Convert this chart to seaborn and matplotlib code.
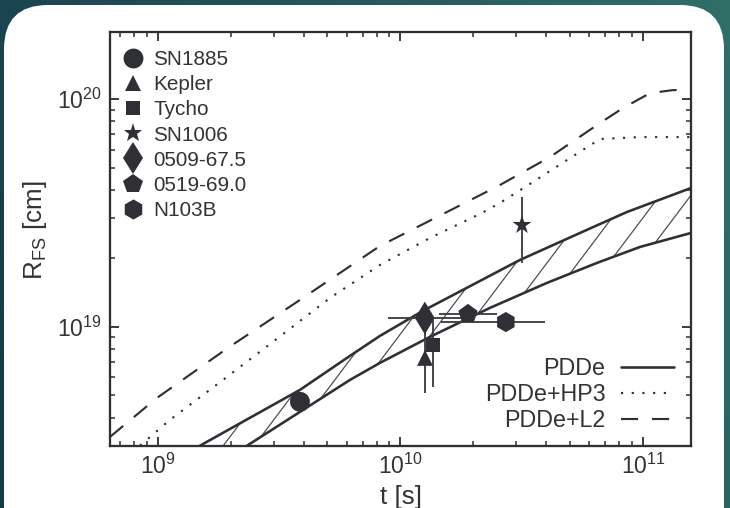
import numpy as np
import matplotlib
matplotlib.use("Agg")
import matplotlib.pyplot as plt
import seaborn as sns
from matplotlib.patches import FancyBboxPatch
from matplotlib.lines import Line2D
from matplotlib.collections import LineCollection
from matplotlib.colors import LinearSegmentedColormap

# ---------------- data ----------------
pdde_upper_t = [1.49e9, 3.85e9, 6.19e9, 8.23e9, 1.238e10, 3.11e10, 5.50e10, 8.59e10, 1.578e11]
pdde_upper_r = [3.01e18, 5.29e18, 7.46e18, 9.13e18, 1.176e19, 1.967e19, 2.584e19, 3.194e19, 4.07e19]
pdde_lower_t = [2.33e9, 6.19e9, 8.23e9, 1.323e10, 2.34e10, 4.02e10, 6.46e10, 9.72e10, 1.578e11]
pdde_lower_r = [3.01e18, 5.85e18, 6.95e18, 9.04e18, 1.212e19, 1.560e19, 1.909e19, 2.243e19, 2.584e19]
hp3_t = [8.43e8, 1.121e9, 1.854e9, 3.245e9, 5.12e9, 8.23e9, 1.323e10, 2.168e10, 2.572e10,
         3.519e10, 4.86e10, 6.65e10, 9.72e10, 1.578e11]
hp3_r = [3.01e18, 3.91e18, 5.85e18, 9.22e18, 1.340e19, 1.870e19, 2.457e19, 3.162e19, 3.499e19,
         4.325e19, 5.40e19, 6.68e19, 6.81e19, 6.81e19]
l2_t = [6.34e8, 9.91e8, 1.944e9, 3.85e9, 8.23e9, 1.555e10, 2.572e10, 4.135e10, 6.65e10,
        8.27e10, 1.069e11, 1.329e11, 1.578e11]
l2_r = [3.29e18, 4.88e18, 8.09e18, 1.313e19, 2.266e19, 3.194e19, 4.196e19, 5.568e19, 7.85e19,
        9.13e19, 1.062e20, 1.095e20, 1.095e20]

snr_names = ["SN1885", "Kepler", "Tycho", "SN1006", "0509-67.5", "0519-69.0", "N103B"]
snr_t = [3.85e9, 1.262e10, 1.362e10, 3.17e10, 1.26e10, 1.898e10, 2.72e10]
snr_r = [4.69e18, 7.31e18, 8.34e18, 2.80e19, 1.094e19, 1.14e19, 1.05e19]
snr_t_lo = [3.85e9, 1.262e10, 1.362e10, 3.17e10, 8.87e9, 1.442e10, 1.465e10]
snr_t_hi = [3.85e9, 1.262e10, 1.362e10, 3.17e10, 1.793e10, 2.50e10, 3.94e10]
snr_r_lo = [4.69e18, 5.14e18, 5.46e18, 1.91e19, 1.094e19, 1.14e19, 1.05e19]
snr_r_hi = [4.69e18, 1.07e19, 1.106e19, 3.72e19, 1.094e19, 1.14e19, 1.05e19]

model_labels = ["PDDe", "PDDe+HP3", "PDDe+L2"]

# ---------------- style ----------------
sns.set_theme(style="ticks")
plt.rcParams["font.family"] = ["Liberation Sans", "DejaVu Sans"]
plt.rcParams["mathtext.default"] = "regular"
INK = "#2e3035"
TXT = "#333333"
for k in ["text.color", "axes.labelcolor", "xtick.color", "ytick.color"]:
    plt.rcParams[k] = TXT

DPI = 220
W, H = 730, 508
fig = plt.figure(figsize=(W / DPI, H / DPI), dpi=DPI)
fig.patch.set_facecolor("#1d4a55")

# teal gradient frame
bg = fig.add_axes([0, 0, 1, 1], zorder=-10)
cmap = LinearSegmentedColormap.from_list("teal", ["#153a48", "#22545c", "#2f6f68"])
gx = np.linspace(0, 1, 256)
gy = np.linspace(0, 1, 64)
grad = 0.8 * gx[None, :] + 0.2 * gy[:, None]
bg.imshow(grad, cmap=cmap, aspect="auto", extent=[0, 1, 0, 1], origin="lower")
bg.set_axis_off()

panel = FancyBboxPatch((4 / DPI, -60 / DPI), (724 - 4) / DPI, (503 + 60) / DPI,
                       boxstyle=f"round,pad=0,rounding_size={44 / DPI}",
                       transform=fig.dpi_scale_trans, facecolor="white",
                       edgecolor="none", zorder=-5)
fig.add_artist(panel)

# main axes
AXW, AXH = 581, 414
ax = fig.add_axes([110 / W, 1 - 446 / H, AXW / W, AXH / H], zorder=1)
ax.set_facecolor("white")
ax.set_xscale("log")
ax.set_yscale("log")
ax.set_xlim(6.34e8, 1.578e11)
ax.set_ylim(3.0e18, 1.97e20)

# hatched band between the PDDe curves (band outline used as clip path)
poly_t = pdde_upper_t + pdde_lower_t[::-1]
poly_r = pdde_upper_r + pdde_lower_r[::-1]
band = ax.fill(poly_t, poly_r, facecolor="none", edgecolor="none", linewidth=0, zorder=1)[0]
theta = np.deg2rad(53)
run = AXH / np.tan(theta)
offs = np.arange(-run - 40, AXW + 40, 31.0)
segs = [[(c / AXW, 0.0), ((c + run) / AXW, 1.0)] for c in offs]
hatch = LineCollection(segs, colors="#4a4c50", linewidths=0.4, transform=ax.transAxes, zorder=2)
ax.add_collection(hatch)
hatch.set_clip_path(band)

# model curves
sns.lineplot(x=pdde_upper_t, y=pdde_upper_r, ax=ax, color=INK, lw=0.85,
             estimator=None, sort=False, zorder=3)
sns.lineplot(x=pdde_lower_t, y=pdde_lower_r, ax=ax, color=INK, lw=0.85,
             estimator=None, sort=False, zorder=3)
sns.lineplot(x=hp3_t, y=hp3_r, ax=ax, color=INK, lw=0.7, linestyle=(0, (1, 4)),
             estimator=None, sort=False, zorder=3)
sns.lineplot(x=l2_t, y=l2_r, ax=ax, color=INK, lw=0.7, linestyle=(0, (8, 6.5)),
             estimator=None, sort=False, zorder=3)

# error bars
t = np.array(snr_t); r = np.array(snr_r)
xerr = [t - np.array(snr_t_lo), np.array(snr_t_hi) - t]
yerr = [r - np.array(snr_r_lo), np.array(snr_r_hi) - r]
ax.errorbar(t, r, xerr=xerr, yerr=yerr, fmt="none", ecolor="#3a3c40",
            elinewidth=0.6, capsize=0, zorder=4)

# SNR markers
markers = ["o", "^", "s", "*", "d", "p", "h"]
msizes = [6.5, 5.2, 4.6, 6.5, 7.6, 6.6, 6.6]
for name, tt, rr, m, ms in zip(snr_names, snr_t, snr_r, markers, msizes):
    sns.scatterplot(x=[tt], y=[rr], ax=ax, marker=m, s=ms ** 2, color=INK,
                    edgecolor="none", linewidth=0, zorder=5, legend=False)

# axes styling
for sp in ax.spines.values():
    sp.set_linewidth(0.75)
    sp.set_color(INK)
    sp.set_visible(True)
ax.tick_params(which="both", direction="in", top=True, right=True, color=INK,
               labelsize=7.5, pad=2.6)
ax.tick_params(which="major", length=3.0, width=0.6)
ax.tick_params(which="minor", length=1.6, width=0.5)

ax.set_xlabel("t [s]", fontsize=8.5)
ax.set_ylabel(r"R$_{\mathdefault{FS}}$ [cm]", fontsize=8.5)
ax.xaxis.set_label_coords(0.5, -0.093)
ax.yaxis.set_label_coords(-0.105, 0.52)

# legends
h1 = [Line2D([0], [0], marker=m, ls="none", color=INK, markersize=ms, markeredgewidth=0)
      for m, ms in zip(markers, msizes)]
leg1 = ax.legend(h1, snr_names, loc="upper left", bbox_to_anchor=(0.024, 0.957),
                 borderaxespad=0, borderpad=0, frameon=False, fontsize=6.8,
                 handlelength=0.9, handletextpad=0.5, labelspacing=0.3)
ax.add_artist(leg1)

h2 = [Line2D([0], [0], color=INK, lw=0.85),
      Line2D([0], [0], color=INK, lw=0.7, linestyle=(0, (1, 4))),
      Line2D([0], [0], color=INK, lw=0.7, linestyle=(0, (8, 6.5)))]
leg2 = ax.legend(h2, model_labels, loc="lower right", bbox_to_anchor=(0.9707, 0.034),
                 borderaxespad=0, borderpad=0, frameon=False, fontsize=7.6,
                 markerfirst=False, handlelength=2.3, handletextpad=0.65, labelspacing=0.12)

fig.savefig("out.png", dpi=DPI)
